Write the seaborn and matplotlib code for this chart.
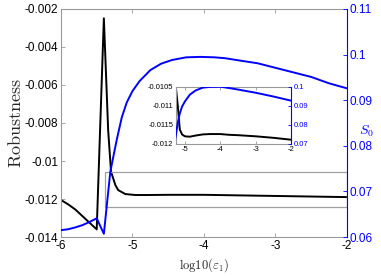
import matplotlib
matplotlib.use("Agg")
import matplotlib.pyplot as plt
import matplotlib.ticker as ticker
from matplotlib.patches import Rectangle
import seaborn as sns
import numpy as np
import pandas as pd

# main curves, x = log10(eps_1)
log_eps_rob = [-6.0, -5.9, -5.8, -5.7, -5.6, -5.5, -5.4, -5.34, -5.3, -5.24,
               -5.2, -5.1, -4.96, -4.8, -4.5, -4.0, -3.5, -3.0, -2.5, -2.0]
robustness = [-0.01205, -0.01228, -0.01255, -0.0129, -0.01325, -0.0136,
              -0.00249, -0.00837, -0.01056, -0.01126, -0.01153,
              -0.01174, -0.01179, -0.01179, -0.01178, -0.01178, -0.01181,
              -0.01184, -0.01187, -0.0119]

log_eps_s0 = [-6.0, -5.9, -5.8, -5.7, -5.6, -5.5, -5.4, -5.31, -5.22, -5.15,
              -5.08, -5.0, -4.9, -4.75, -4.6, -4.45, -4.25, -4.05, -3.85,
              -3.7, -3.5, -3.25, -3.0, -2.75, -2.5, -2.25, -2.0]
s0 = [0.0615, 0.0617, 0.0621, 0.0626, 0.0633, 0.0641, 0.0607, 0.0743, 0.0813,
      0.0862, 0.0895, 0.0920, 0.0942, 0.0966, 0.0980, 0.0988, 0.0994, 0.0995,
      0.0994, 0.0992, 0.0987, 0.0981, 0.0971, 0.0961, 0.0951, 0.0937, 0.0926]

# inset (zoomed) curves
log_eps_zoom = [-5.3, -5.256, -5.2, -5.143, -5.08, -5.0, -4.86, -4.7, -4.5,
                -4.3, -4.0, -3.75, -3.5, -3.0, -2.5, -2.0]
robust_zoom = [-0.0095, -0.0105, -0.01101, -0.01163, -0.01176, -0.01181,
               -0.01182, -0.01179, -0.01176, -0.01175, -0.01175, -0.01177,
               -0.01178, -0.01181, -0.01185, -0.0119]
s0_zoom = [0.070, 0.0742, 0.0810, 0.0859, 0.0895, 0.0922, 0.0958, 0.0980,
           0.0995, 0.0999, 0.1000, 0.0993, 0.0985, 0.0968, 0.0948, 0.0926]

# zoom window marked on the main plot
box_x = [-5.385, -2.0]
box_y = [-0.01241, -0.01056]

rob_df = pd.DataFrame({"log_eps": log_eps_rob, "robustness": robustness})
s0_df = pd.DataFrame({"log_eps": log_eps_s0, "s0": s0})
zoom_df = pd.DataFrame({"log_eps": log_eps_zoom, "robustness": robust_zoom, "s0": s0_zoom})

sns.set_style("white")
plt.rcParams["font.family"] = ["Liberation Sans", "DejaVu Sans"]
plt.rcParams["mathtext.fontset"] = "cm"

blue = "#0000ff"
frame = "#999999"

fig = plt.figure(figsize=(3.81, 2.76), dpi=100)
ax = fig.add_axes([0.160, 0.1413, 0.7507, 0.8261])
ax2 = ax.twinx()


def style_axes(a, a2, size, length):
    for side in ["left", "top", "bottom"]:
        a.spines[side].set_color(frame)
        a.spines[side].set_linewidth(0.8)
    a.spines["right"].set_visible(False)
    for side in ["left", "top", "bottom"]:
        a2.spines[side].set_visible(False)
    a2.spines["right"].set_color(blue)
    a2.spines["right"].set_linewidth(0.8)
    a.tick_params(axis="both", direction="in", length=length, width=0.6,
                  color=frame, labelsize=size, labelcolor="black",
                  top=True, bottom=True, left=True, right=False, pad=2)
    a2.tick_params(axis="y", direction="in", length=length, width=0.6,
                   color=blue, labelcolor=blue, labelsize=size, pad=2)
    a.yaxis.set_major_formatter(ticker.FuncFormatter(lambda v, p: f"{v:g}"))
    a2.yaxis.set_major_formatter(ticker.FuncFormatter(lambda v, p: f"{v:g}"))
    a.xaxis.set_major_formatter(ticker.FuncFormatter(lambda v, p: f"{v:g}"))
    a.set_xlabel("")
    a.set_ylabel("")
    a2.set_ylabel("")


sns.lineplot(data=rob_df, x="log_eps", y="robustness", ax=ax, color="black",
             linewidth=1.4, sort=False)
sns.lineplot(data=s0_df, x="log_eps", y="s0", ax=ax2, color=blue,
             linewidth=1.4, sort=False)

ax.add_patch(Rectangle((box_x[0], box_y[0]), box_x[1] - box_x[0],
                       box_y[1] - box_y[0], fill=False, edgecolor="#a0a0a0",
                       linewidth=0.9, zorder=5))

ax.set_xlim(-6, -2)
ax.set_ylim(-0.014, -0.002)
ax2.set_ylim(0.06, 0.11)
ax.set_xticks(np.arange(-6, -1.5, 1))
ax.set_yticks(np.arange(-0.014, -0.0015, 0.002))
ax2.set_yticks(np.arange(0.06, 0.1101, 0.01))
style_axes(ax, ax2, 8.5, 3)

ax.set_xlabel(r"$\mathrm{log10}(\varepsilon_1)$", fontsize=9, labelpad=3)
ax.set_ylabel(r"$\mathrm{Robustness}$", fontsize=13, labelpad=0)
fig.text(0.962, 0.525, r"$S_0$", color=blue, fontsize=10, ha="center", va="center")

# inset
axi = fig.add_axes([0.462, 0.48, 0.3026, 0.2058])
axi2 = axi.twinx()
sns.lineplot(data=zoom_df, x="log_eps", y="robustness", ax=axi, color="black",
             linewidth=1.4, sort=False)
sns.lineplot(data=zoom_df, x="log_eps", y="s0", ax=axi2, color=blue,
             linewidth=1.4, sort=False)
axi.set_xlim(-5.25, -2)
axi.set_ylim(-0.012, -0.0105)
axi2.set_ylim(0.07, 0.1)
axi.set_xticks([-5, -4, -3, -2])
axi.set_yticks([-0.012, -0.0115, -0.011, -0.0105])
axi2.set_yticks([0.07, 0.08, 0.09, 0.1])
style_axes(axi, axi2, 5.5, 2)
axi.patch.set_facecolor("white")

fig.savefig("out.png", dpi=100)
